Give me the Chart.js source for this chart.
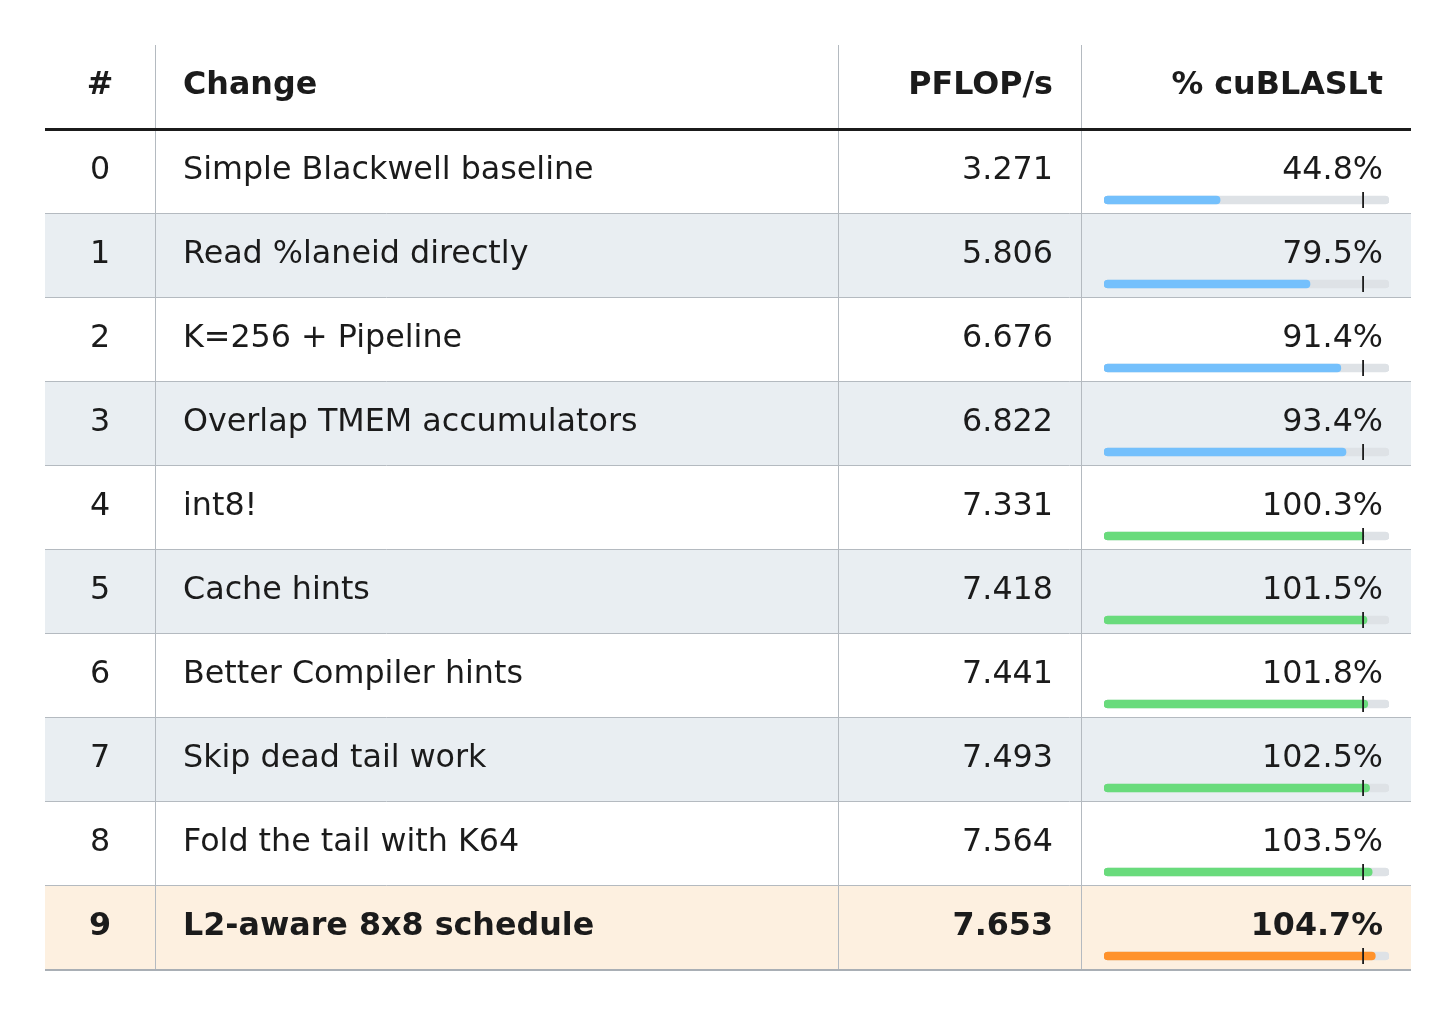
<!DOCTYPE html>
<html lang="en">
<head>
    <meta charset="UTF-8">
    <title>Kernel progress table</title>
    <script src="https://cdn.jsdelivr.net/npm/chart.js"></script>
    <style>
        body { margin: 0; background: #ffffff; }
        canvas { display: block; }
    </style>
</head>
<body>

<canvas id="myChart" width="1456" height="1014"></canvas>

<script>
    // table data
    const steps = ['0', '1', '2', '3', '4', '5', '6', '7', '8', '9'];
    const changes = ['Simple Blackwell baseline', 'Read %laneid directly', 'K=256 + Pipeline',
        'Overlap TMEM accumulators', 'int8!', 'Cache hints', 'Better Compiler hints',
        'Skip dead tail work', 'Fold the tail with K64', 'L2-aware 8x8 schedule'];
    const pflops = ['3.271', '5.806', '6.676', '6.822', '7.331', '7.418', '7.441', '7.493', '7.564', '7.653'];
    const pctCublas = [44.8, 79.5, 91.4, 93.4, 100.3, 101.5, 101.8, 102.5, 103.5, 104.7];
    const headers = ['#', 'Change', 'PFLOP/s', '% cuBLASLt'];
    const refLine = 100;
    const scaleMax = 110;
    const bestRow = 9;

    // layout
    const W = 1456, H = 1014;
    const tblLeft = 45, tblRight = 1411, tblTop = 45;
    const headH = 84, rowH = 84;
    const colX = [45, 155, 838, 1081, 1411];
    const barOffset = 71;    // bar centre below row top
    const textOffset = 49.5; // text baseline below row top
    const FONT = '"DejaVu Sans", sans-serif';
    const FONT_PX = 31.75;
    const INK = '#1b1b1b';

    const barColors = pctCublas.map((v, i) => i === bestRow ? '#ff922b' : (v >= refLine ? '#69db7c' : '#74c0fc'));
    const rowFill = i => i === bestRow ? '#fdf0e0' : (i % 2 === 1 ? '#e9eef2' : '#ffffff');

    const tablePlugin = {
        id: 'tablePlugin',
        beforeDraw(chart) {
            const c = chart.ctx;
            const y0 = tblTop + headH;
            c.save();
            c.fillStyle = '#ffffff';
            c.fillRect(0, 0, W, H);
            steps.forEach((s, i) => {
                c.fillStyle = rowFill(i);
                c.fillRect(tblLeft, y0 + i * rowH, tblRight - tblLeft, rowH);
            });
            // row separators
            c.strokeStyle = '#b4bac0';
            c.lineWidth = 1;
            for (let i = 1; i < steps.length; i++) {
                const y = y0 + i * rowH + 0.5;
                c.beginPath(); c.moveTo(tblLeft, y); c.lineTo(tblRight, y); c.stroke();
            }
            // column lines
            const yEnd = y0 + steps.length * rowH;
            colX.slice(1, 4).forEach(x => {
                c.beginPath(); c.moveTo(x + 0.5, tblTop); c.lineTo(x + 0.5, yEnd); c.stroke();
            });
            // bottom rule
            c.strokeStyle = '#a9afb5';
            c.lineWidth = 2;
            c.beginPath(); c.moveTo(tblLeft, yEnd + 1); c.lineTo(tblRight, yEnd + 1); c.stroke();
            // header rule
            c.strokeStyle = INK;
            c.lineWidth = 3;
            c.beginPath(); c.moveTo(tblLeft, tblTop + headH + 0.5); c.lineTo(tblRight, tblTop + headH + 0.5); c.stroke();
            c.restore();
        },
        afterDatasetsDraw(chart) {
            const c = chart.ctx;
            const xs = chart.scales.x, ys = chart.scales.y;
            c.save();
            // 100% marker
            c.strokeStyle = INK;
            c.lineWidth = 1.8;
            const mx = xs.getPixelForValue(refLine);
            steps.forEach((s, i) => {
                const cy = ys.getPixelForValue(i);
                c.beginPath(); c.moveTo(mx, cy - 8); c.lineTo(mx, cy + 8); c.stroke();
            });
            // text
            c.fillStyle = INK;
            c.textBaseline = 'alphabetic';
            const put = (txt, col, y, bold) => {
                c.font = (bold ? 'bold ' : '') + FONT_PX + 'px ' + FONT;
                if (col === 0) {
                    c.textAlign = 'center';
                    c.fillText(txt, (colX[0] + colX[1]) / 2, y);
                } else if (col === 1) {
                    c.textAlign = 'left';
                    c.fillText(txt, colX[1] + 28, y);
                } else {
                    c.textAlign = 'right';
                    c.fillText(txt, colX[col + 1] - 28, y);
                }
            };
            headers.forEach((h, k) => put(h, k, tblTop + 49, true));
            steps.forEach((s, i) => {
                const y = ys.getPixelForValue(i) - barOffset + textOffset;
                const b = i === bestRow;
                put(s, 0, y, b);
                put(changes[i], 1, y, b);
                put(pflops[i], 2, y, b);
                put(pctCublas[i].toFixed(1) + '%', 3, y, b);
            });
            c.restore();
        }
    };

    const firstBarY = tblTop + headH + barOffset;
    const ctx = document.getElementById('myChart').getContext('2d');
    const myChart = new Chart(ctx, {
        type: 'bar',
        data: {
            labels: steps,
            datasets: [{
                label: '% cuBLASLt',
                data: pctCublas,
                backgroundColor: barColors,
                barThickness: 8,
                borderRadius: 4,
                borderSkipped: false,
                grouped: false,
                order: 0
            }, {
                label: 'track',
                data: steps.map(() => scaleMax),
                backgroundColor: '#dee2e6',
                barThickness: 8,
                borderRadius: 4,
                borderSkipped: false,
                grouped: false,
                order: 1
            }]
        },
        options: {
            indexAxis: 'y',
            responsive: false,
            animation: false,
            devicePixelRatio: 1,
            layout: {
                padding: {
                    left: 1104,
                    right: W - 1389,
                    top: firstBarY - rowH / 2,
                    bottom: H - (firstBarY - rowH / 2 + rowH * steps.length)
                }
            },
            scales: {
                x: { display: false, min: 0, max: scaleMax },
                y: { display: false }
            },
            plugins: {
                legend: { display: false },
                tooltip: { enabled: false }
            }
        },
        plugins: [tablePlugin]
    });
</script>

</body>
</html>
